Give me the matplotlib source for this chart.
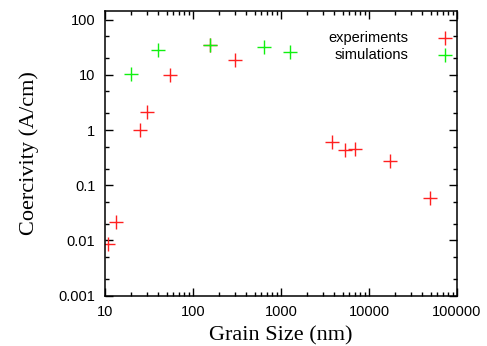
"""Coercivity vs grain size: experiments and simulations (log-log)."""
import matplotlib
matplotlib.use("Agg")
import matplotlib.pyplot as plt
from matplotlib.ticker import LogLocator, FixedLocator, NullFormatter, FuncFormatter

# experiments
exp_size = [10.8, 13.5, 24.8, 29.8, 55, 155, 300, 3800, 5300, 7000, 17200, 49000]
exp_hc = [0.0088, 0.022, 1.0, 2.15, 10.0, 35, 18.6, 0.62, 0.43, 0.45, 0.28, 0.06]
# simulations
sim_size = [20, 40, 155, 640, 1250]
sim_hc = [10.5, 28.7, 34, 32.4, 26]

RED = "#ff2020"
GREEN = "#10f010"

fig = plt.figure(figsize=(4.87, 3.46), dpi=100)
ax = fig.add_axes([105 / 487, 1 - 295.7 / 346, (457 - 105) / 487, (295.7 - 10.7) / 346])

mk = dict(linestyle="none", marker="+", markersize=10, markeredgewidth=1.0)
ax.plot(exp_size, exp_hc, color=RED, **mk)
ax.plot(sim_size, sim_hc, color=GREEN, **mk)

ax.set_xscale("log")
ax.set_yscale("log")
ax.set_xlim(10, 100000)
ax.set_ylim(0.001, 145)

ax.yaxis.set_major_locator(FixedLocator([0.001, 0.01, 0.1, 1, 10, 100]))
ax.yaxis.set_minor_locator(LogLocator(base=10, subs=[2, 5], numticks=20))
ax.xaxis.set_major_locator(FixedLocator([10, 100, 1000, 10000, 100000]))
ax.xaxis.set_minor_locator(LogLocator(base=10, subs=range(2, 10), numticks=20))
fmt = FuncFormatter(lambda v, p: f"{v:g}" if v >= 1 else f"{v:.10f}".rstrip("0"))
ax.xaxis.set_major_formatter(FuncFormatter(lambda v, p: f"{int(round(v))}"))
ax.yaxis.set_major_formatter(fmt)
ax.xaxis.set_minor_formatter(NullFormatter())
ax.yaxis.set_minor_formatter(NullFormatter())

tick_font = "Liberation Sans"
ax.tick_params(which="both", direction="in", top=True, right=True, width=1.0, color="black")
ax.tick_params(which="major", length=6, labelsize=10.5, pad=7)
ax.tick_params(which="minor", length=3)
for lab in ax.get_xticklabels() + ax.get_yticklabels():
    lab.set_fontfamily(tick_font)
for s in ax.spines.values():
    s.set_linewidth(1.1)

ax.set_xlabel("Grain Size (nm)", family="Liberation Serif", fontsize=16, labelpad=5)
ax.set_ylabel("Coercivity (A/cm)", family="Liberation Serif", fontsize=16, labelpad=14)

# gnuplot-style key: right-aligned text, marker on the right
key = [("experiments", RED, 0.905), ("simulations", GREEN, 0.843)]
for text, col, yy in key:
    ax.text(0.862, yy, text, transform=ax.transAxes, ha="right", va="center",
            family=tick_font, fontsize=10.5)
    ax.plot([0.965], [yy], transform=ax.transAxes, color=col, clip_on=False, **mk)

fig.savefig("out.png", dpi=100)
